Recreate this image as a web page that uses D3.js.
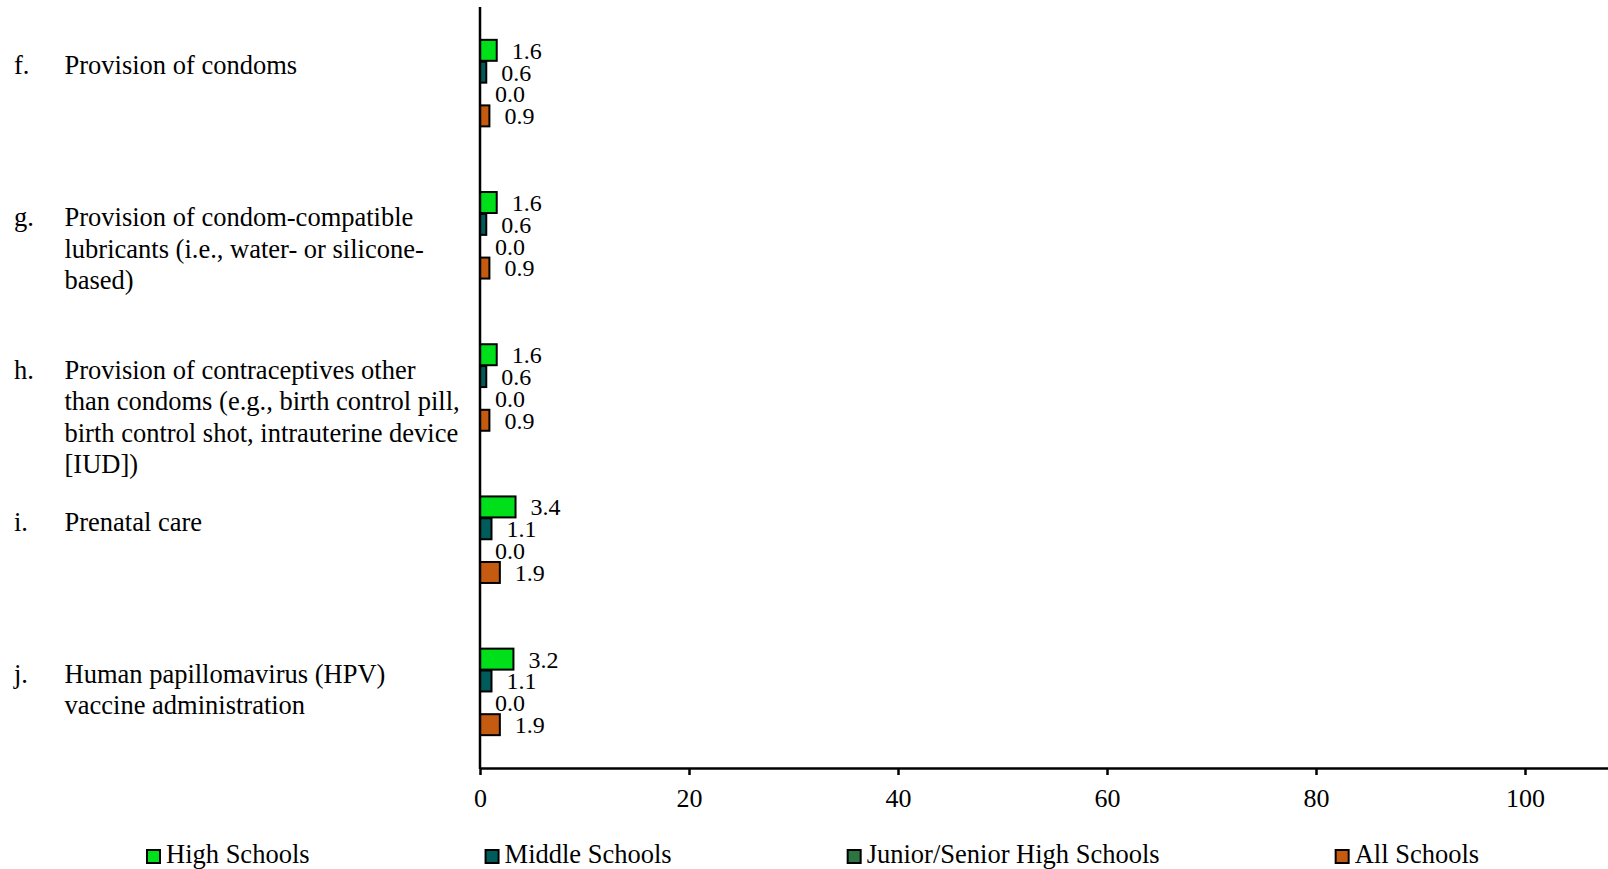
<!DOCTYPE html>
<html>
<head>
<meta charset="utf-8">
<script src="https://cdn.jsdelivr.net/npm/d3@7"></script>
<style>
  html, body { margin: 0; padding: 0; background: #fff; }
  svg { display: block; }
  text { font-family: "Liberation Serif", "Times New Roman", serif; fill: #000; }
</style>
</head>
<body>
<svg id="chart" width="1608" height="869"></svg>
<script>
// ---- Data ----
const categoryLetters = ["f.", "g.", "h.", "i.", "j."];
const categoryLabels = [
  ["Provision of condoms"],
  ["Provision of condom-compatible", "lubricants (i.e., water- or silicone-", "based)"],
  ["Provision of contraceptives other", "than condoms (e.g., birth control pill,", "birth control shot, intrauterine device", "[IUD])"],
  ["Prenatal care"],
  ["Human papillomavirus (HPV)", "vaccine administration"]
];
const seriesNames = ["High Schools", "Middle Schools", "Junior/Senior High Schools", "All Schools"];
const seriesColors = ["#00e01a", "#005b5b", "#2e7442", "#c55a11"];
const highSchools   = [1.6, 1.6, 1.6, 3.4, 3.2];
const middleSchools = [0.6, 0.6, 0.6, 1.1, 1.1];
const juniorSenior  = [0.0, 0.0, 0.0, 0.0, 0.0];
const allSchools    = [0.9, 0.9, 0.9, 1.9, 1.9];
const xTicks = [0, 20, 40, 60, 80, 100];
const xMax = 108;

const seriesValues = [highSchools, middleSchools, juniorSenior, allSchools];

// ---- Layout ----
const svg = d3.select("#chart");
const axisX = 480, axisTop = 7, axisBottom = 768, rightEdge = 1608.6;

const x = d3.scaleLinear().domain([0, xMax]).range([axisX, rightEdge]);
const y = d3.scaleBand().domain(categoryLetters).range([axisTop, axisBottom]).paddingInner(0.42).paddingOuter(0.21);
const ySub = d3.scaleBand().domain(d3.range(seriesNames.length)).range([0, y.bandwidth()]).padding(0.04);

// bars
const groups = svg.append("g").selectAll("g")
  .data(categoryLetters)
  .join("g")
  .attr("transform", d => `translate(0,${y(d)})`);

groups.each(function(cat, ci) {
  const g = d3.select(this);
  seriesValues.forEach((vals, si) => {
    const v = vals[ci];
    const yy = ySub(si);
    if (v > 0) {
      g.append("rect")
        .attr("x", x(0))
        .attr("y", yy)
        .attr("width", x(v) - x(0))
        .attr("height", ySub.bandwidth())
        .attr("fill", seriesColors[si])
        .attr("stroke", "#000")
        .attr("stroke-width", 2);
    }
    g.append("text")
      .attr("x", x(v) + 15)
      .attr("y", yy + ySub.bandwidth() / 2)
      .attr("dy", "0.35em")
      .attr("font-size", 24)
      .text(d3.format(".1f")(v));
  });
});

// category labels
categoryLetters.forEach((letter, ci) => {
  const cy = y(letter) + y.bandwidth() / 2;
  const firstBaseline = cy - 9;
  svg.append("text")
    .attr("x", 14)
    .attr("y", firstBaseline)
    .attr("font-size", 26.5)
    .text(letter);
  const t = svg.append("text")
    .attr("x", 64.5)
    .attr("y", firstBaseline)
    .attr("font-size", 26.5);
  categoryLabels[ci].forEach((line, li) => {
    t.append("tspan")
      .attr("x", 64.5)
      .attr("y", firstBaseline + li * 31.5)
      .text(line);
  });
});

// x axis
const xAxis = d3.axisBottom(x).tickValues(xTicks).tickSize(7).tickSizeOuter(0).tickPadding(14).tickFormat(d3.format("d"));
const gx = svg.append("g").attr("transform", `translate(0,${axisBottom})`).call(xAxis);
gx.select(".domain").attr("stroke", "#000").attr("stroke-width", 2.5);
gx.selectAll(".tick line").attr("stroke", "#000").attr("stroke-width", 2.5);
gx.selectAll(".tick text").attr("font-size", 26).attr("font-family", "'Liberation Serif', 'Times New Roman', serif").attr("fill", "#000");

// y axis line
svg.append("line")
  .attr("x1", axisX).attr("x2", axisX)
  .attr("y1", axisTop).attr("y2", axisBottom + 1)
  .attr("stroke", "#000").attr("stroke-width", 2.5);

// legend
const legend = svg.append("g");
let lx = 147;
seriesNames.forEach((name, si) => {
  legend.append("rect")
    .attr("x", lx).attr("y", 850)
    .attr("width", 13).attr("height", 13)
    .attr("fill", seriesColors[si])
    .attr("stroke", "#000").attr("stroke-width", 2);
  const t = legend.append("text")
    .attr("x", lx + 19).attr("y", 863)
    .attr("font-size", 26.5)
    .text(name);
  const w = t.node().getComputedTextLength();
  lx = lx + 19 + w + 176;
});
</script>
</body>
</html>
